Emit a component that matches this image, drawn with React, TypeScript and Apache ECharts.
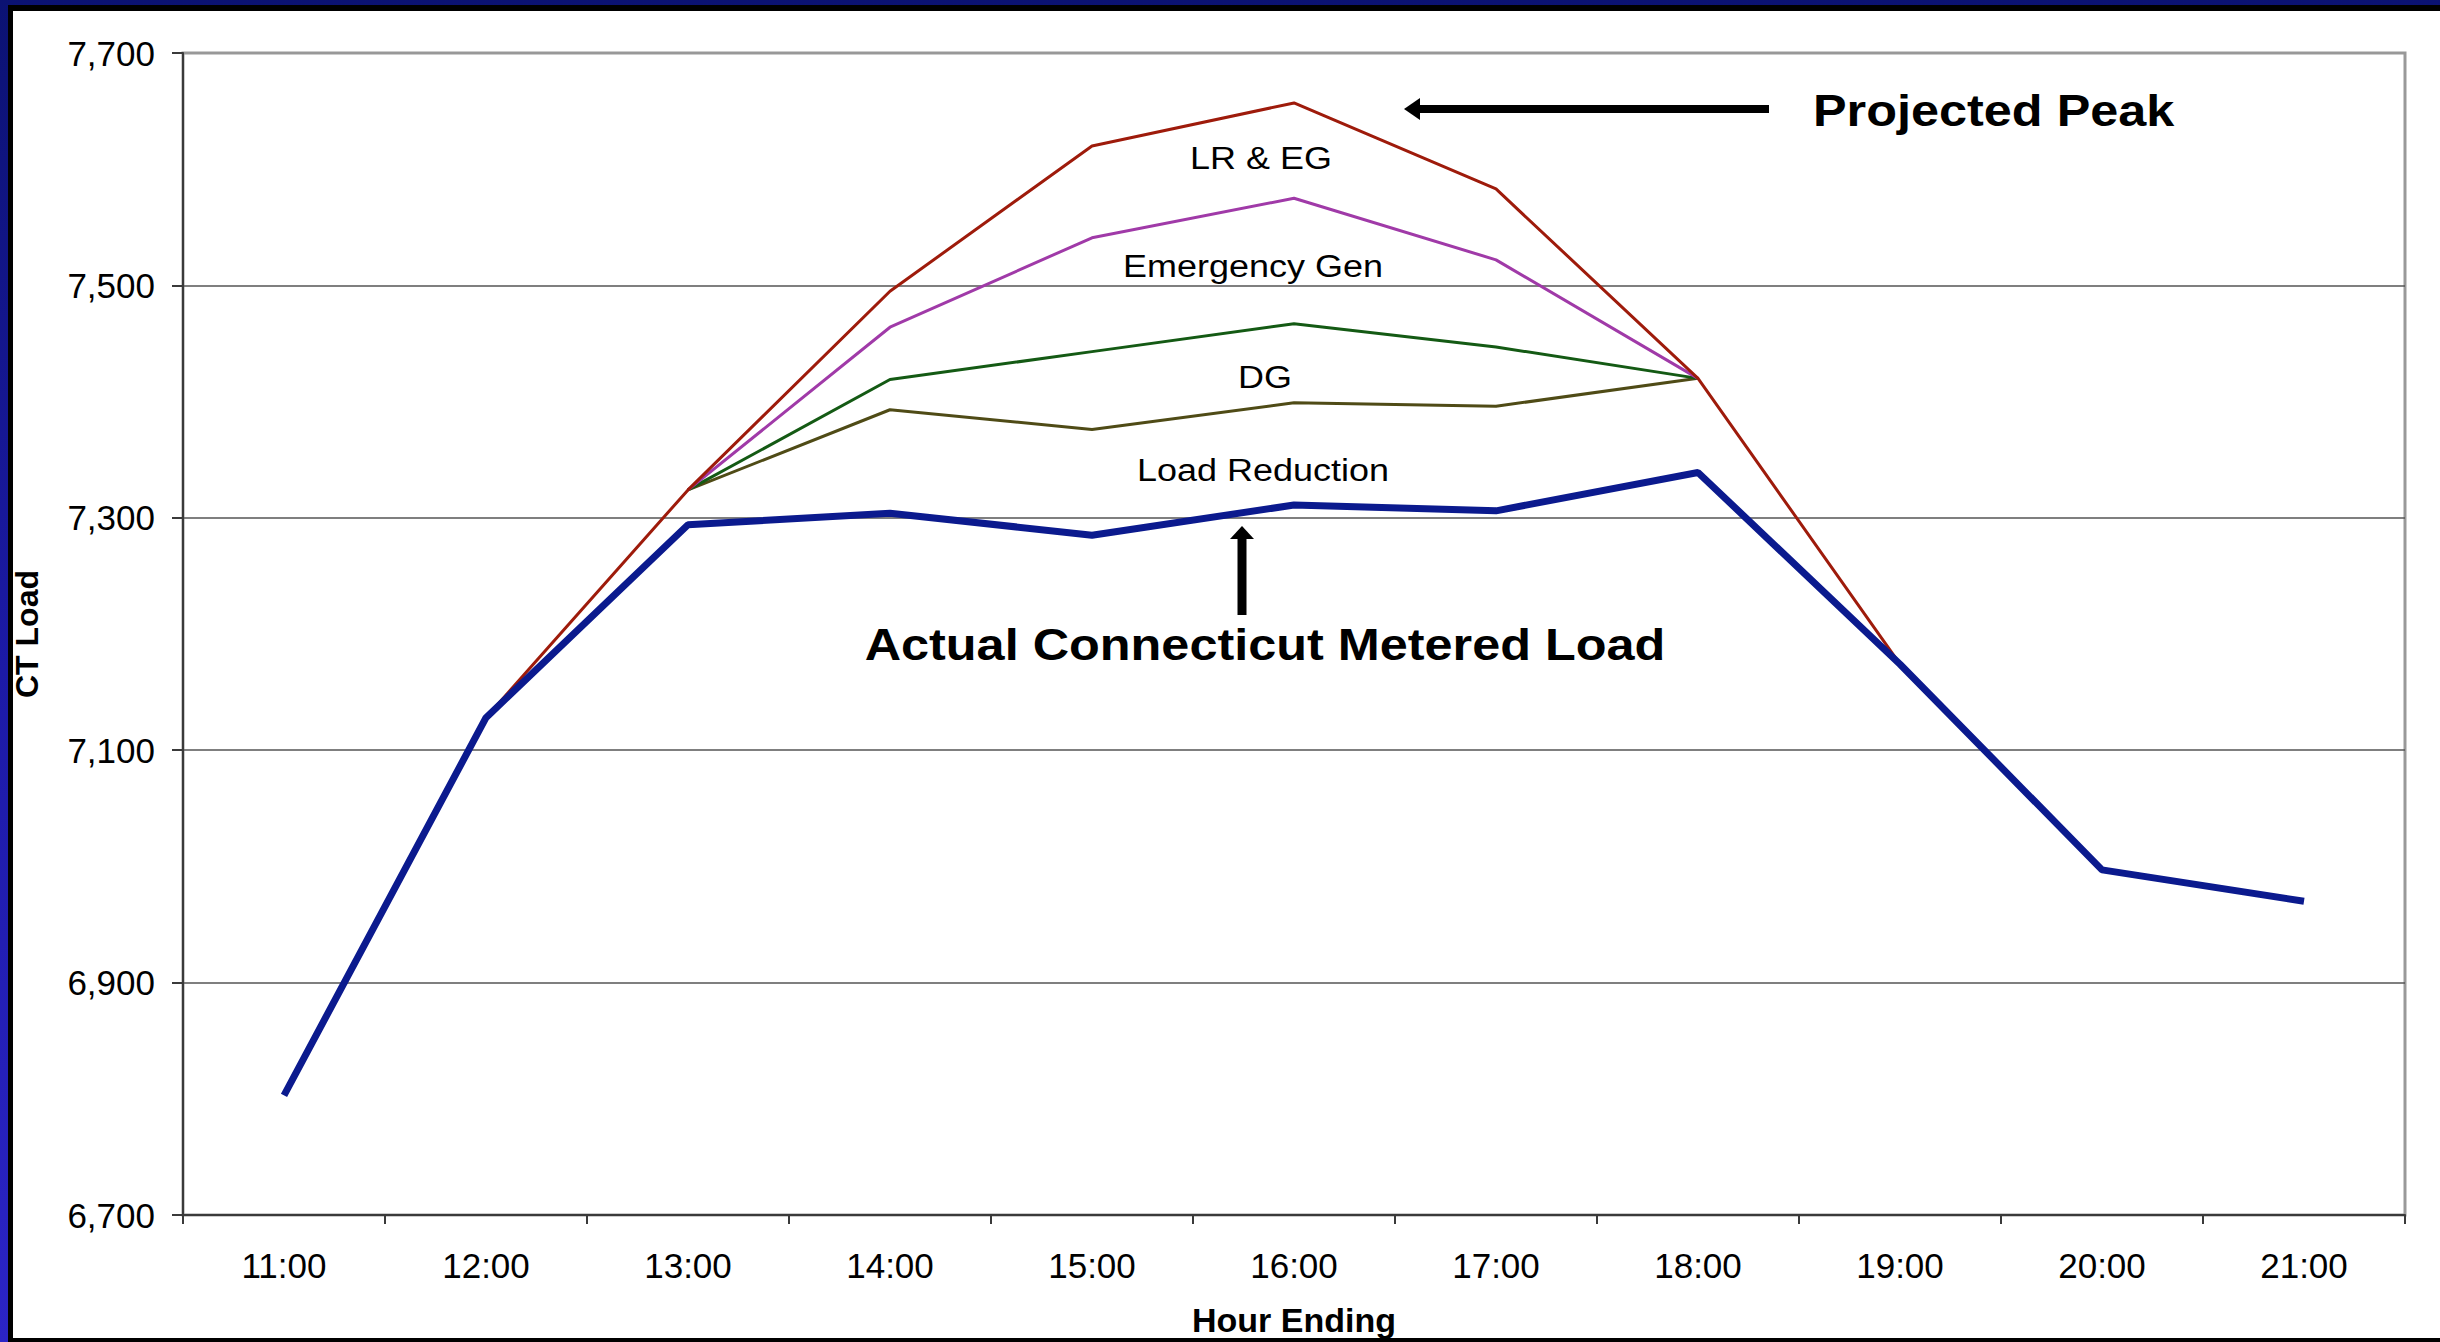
import React, { useEffect, useRef } from "react";
import * as echarts from "echarts";

const hours = ["11:00", "12:00", "13:00", "14:00", "15:00", "16:00", "17:00", "18:00", "19:00", "20:00", "21:00"];
const actualLoad = [6803, 7128, 7294, 7304, 7285, 7311, 7306, 7339, 7174, 6997, 6970];
const plusLoadReduction = [null, null, 7324, 7393, 7376, 7399, 7396, 7420, null, null, null];
const plusDG = [null, null, 7324, 7419, 7443, 7467, 7447, 7420, null, null, null];
const plusEmergencyGen = [null, null, 7324, 7464, 7541, 7575, 7522, 7420, null, null, null];
const projectedPeak = [null, 7128, 7324, 7495, 7620, 7657, 7583, 7420, 7174, null, null];
const yTicks = { min: 6700, max: 7700, step: 200 };

const FONT = "'Liberation Sans', Arial, Helvetica, sans-serif";

function thinText(text: string, x: number, y: number) {
  return {
    type: "text",
    x,
    y,
    scaleX: 1.16,
    z: 100,
    style: {
      text,
      x: 0,
      y: 0,
      fontSize: 31,
      fontFamily: FONT,
      fill: "#000",
      align: "center",
      verticalAlign: "middle",
      textAlign: "center",
      textVerticalAlign: "middle",
    },
  };
}

function boldText(text: string, x: number, y: number, align: string) {
  return {
    type: "text",
    x,
    y,
    scaleX: 1.12,
    z: 100,
    style: {
      text,
      x: 0,
      y: 0,
      fontSize: 45,
      fontWeight: "bold",
      fontFamily: FONT,
      fill: "#000",
      align,
      verticalAlign: "middle",
      textAlign: align,
      textVerticalAlign: "middle",
    },
  };
}

export default function App() {
  const ref = useRef<HTMLDivElement>(null);

  useEffect(() => {
    document.body.style.margin = "0";
    if (!ref.current) return;
    const chart = echarts.init(ref.current, null, { renderer: "svg" });
    const lineSeries = (name: string, data: (number | null)[], color: string, width: number) => ({
      name,
      type: "line",
      data,
      showSymbol: false,
      symbol: "none",
      lineStyle: { color, width },
      itemStyle: { color },
      z: 3,
    });
    chart.setOption({
      animation: false,
      backgroundColor: "transparent",
      textStyle: { fontFamily: FONT },
      grid: {
        left: 183,
        top: 53,
        right: 35,
        bottom: 123,
        show: true,
        borderColor: "#999",
        borderWidth: 3,
        backgroundColor: "transparent",
      },
      xAxis: {
        type: "category",
        data: hours,
        boundaryGap: true,
        axisLine: { lineStyle: { color: "#3a3a3a", width: 2 } },
        axisTick: { show: true, length: 9, lineStyle: { color: "#3a3a3a", width: 2 } },
        axisLabel: { fontSize: 35, color: "#000", margin: 33, fontFamily: FONT },
        name: "Hour Ending",
        nameLocation: "middle",
        nameGap: 88,
        nameTextStyle: { fontSize: 34, fontWeight: "bold", color: "#000", fontFamily: FONT },
      },
      yAxis: {
        type: "value",
        min: yTicks.min,
        max: yTicks.max,
        interval: yTicks.step,
        axisLine: { show: true, lineStyle: { color: "#3a3a3a", width: 2 } },
        axisTick: { show: true, length: 11, lineStyle: { color: "#3a3a3a", width: 2 } },
        splitLine: {
          show: true,
          lineStyle: { color: ["#555", "#555", "#555", "#555", "#555", "#999"], width: 1.5 },
        },
        axisLabel: {
          fontSize: 35,
          color: "#000",
          margin: 28,
          fontFamily: FONT,
          formatter: (v: number) => v.toLocaleString("en-US"),
        },
        name: "CT Load",
        nameLocation: "middle",
        nameGap: 140,
        nameRotate: 90,
        nameTextStyle: { fontSize: 32, fontWeight: "bold", color: "#000", fontFamily: FONT },
      },
      series: [
        lineSeries("Actual + Load Reduction", plusLoadReduction, "#4f4b16", 3),
        lineSeries("Plus DG", plusDG, "#145a14", 3),
        lineSeries("Plus Emergency Gen", plusEmergencyGen, "#a03aa8", 3),
        lineSeries("Projected Peak", projectedPeak, "#9e1b0b", 3),
        lineSeries("Actual Connecticut Metered Load", actualLoad, "#0b1a8e", 7),
      ],
      graphic: [
        thinText("LR & EG", 1261, 158),
        thinText("Emergency Gen", 1253, 266),
        thinText("DG", 1265, 377),
        thinText("Load Reduction", 1263, 470),
        boldText("Projected Peak", 1813, 110, "left"),
        boldText("Actual Connecticut Metered Load", 1265, 644, "center"),
        {
          type: "line",
          z: 100,
          shape: { x1: 1416, y1: 109, x2: 1769, y2: 109 },
          style: { stroke: "#000", lineWidth: 8 },
        },
        {
          type: "polygon",
          z: 100,
          shape: { points: [[1404, 109], [1420, 98], [1420, 120]] },
          style: { fill: "#000" },
        },
        {
          type: "line",
          z: 100,
          shape: { x1: 1242, y1: 537, x2: 1242, y2: 615 },
          style: { stroke: "#000", lineWidth: 9 },
        },
        {
          type: "polygon",
          z: 100,
          shape: { points: [[1242, 526], [1230, 539], [1254, 539]] },
          style: { fill: "#000" },
        },
      ],
    });
    return () => chart.dispose();
  }, []);

  return (
    <div
      style={{
        position: "relative",
        width: 2440,
        height: 1342,
        overflow: "hidden",
        background: "linear-gradient(to bottom, #0b1273 0%, #1c1aa6 50%, #2b24c6 100%)",
      }}
    >
      <div
        style={{
          position: "absolute",
          left: 8,
          top: 5,
          right: -20,
          bottom: 0,
          borderLeft: "5px solid #000",
          borderTop: "6px solid #000",
          borderBottom: "4px solid #000",
          borderRight: "5px solid #000",
          background: "#fff",
          boxSizing: "border-box",
        }}
      />
      <div ref={ref} style={{ position: "absolute", left: 0, top: 0, width: 2440, height: 1342 }} />
    </div>
  );
}
